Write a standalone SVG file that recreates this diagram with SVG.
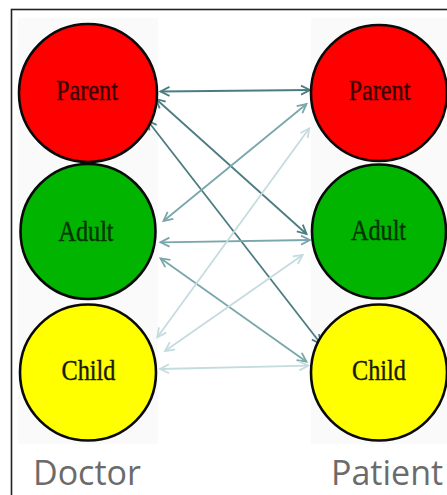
<svg xmlns="http://www.w3.org/2000/svg" width="447" height="495" viewBox="0 0 447 495">
  <style>
    .bg{fill:#fafafa}
    .node{stroke:#0a0a0a;stroke-width:2.6}
    .lbl{font-family:"Liberation Serif",serif;font-size:25px;text-anchor:middle;stroke-width:0.35}
    .role{font-family:"Open Sans",sans-serif;font-size:34px;fill:#6b6b6b}
    .c{fill:none;stroke-width:1.8}
    .d{stroke:#4b7c82}
    .m{stroke:#79a7ac}
    .l{stroke:#c5dcdf}
  </style>
  <defs>
    <marker id="ad" viewBox="-10 -6 12 12" markerWidth="12" markerHeight="12" refX="0" refY="0" orient="auto-start-reverse" markerUnits="userSpaceOnUse">
      <path d="M-9,-4.5 L0,0 L-9,4.5" fill="none" stroke="#4b7c82" stroke-width="1.8"/>
    </marker>
    <marker id="am" viewBox="-10 -6 12 12" markerWidth="12" markerHeight="12" refX="0" refY="0" orient="auto-start-reverse" markerUnits="userSpaceOnUse">
      <path d="M-9,-4.5 L0,0 L-9,4.5" fill="none" stroke="#79a7ac" stroke-width="1.8"/>
    </marker>
    <marker id="al" viewBox="-10 -6 12 12" markerWidth="12" markerHeight="12" refX="0" refY="0" orient="auto-start-reverse" markerUnits="userSpaceOnUse">
      <path d="M-9,-4.5 L0,0 L-9,4.5" fill="none" stroke="#c5dcdf" stroke-width="1.8"/>
    </marker>
  </defs>
  <rect x="0" y="0" width="447" height="495" fill="#fff"/>
  <rect x="11.5" y="9.5" width="445" height="495" fill="none" stroke="#222" stroke-width="1.6"/>
  <rect class="bg" x="18" y="18" width="140" height="426"/>
  <rect class="bg" x="311" y="18" width="140" height="426"/>

  <g id="connectors">
    <line class="c d" x1="160.5" y1="91.5" x2="310" y2="90" marker-start="url(#ad)" marker-end="url(#ad)"/>
    <line class="c d" x1="156" y1="99" x2="306.5" y2="234" marker-start="url(#ad)" marker-end="url(#ad)"/>
    <line class="c d" x1="147.5" y1="120.5" x2="321" y2="344" marker-start="url(#ad)" marker-end="url(#ad)"/>
    <line class="c m" x1="163.5" y1="221" x2="306.5" y2="104" marker-start="url(#am)" marker-end="url(#am)"/>
    <line class="c m" x1="160.5" y1="242.3" x2="310" y2="240" marker-start="url(#am)" marker-end="url(#am)"/>
    <line class="c m" x1="160.5" y1="258.3" x2="306.5" y2="361.7" marker-start="url(#am)" marker-end="url(#am)"/>
    <line class="c l" x1="157.3" y1="337.3" x2="309.3" y2="128.3" marker-start="url(#al)" marker-end="url(#al)"/>
    <line class="c l" x1="165" y1="351" x2="302.7" y2="255" marker-start="url(#al)" marker-end="url(#al)"/>
    <line class="c l" x1="160" y1="369" x2="308.3" y2="365.7" marker-start="url(#al)" marker-end="url(#al)"/>
  </g>

  <g id="doctor-parent">
    <circle class="node" cx="88" cy="93" r="69" fill="#ff0000"/>
    <text class="lbl" transform="translate(87,100) scale(0.97,1.15)" fill="#3a0000" stroke="#3a0000">Parent</text>
  </g>
  <g id="doctor-adult">
    <circle class="node" cx="88" cy="231.5" r="67.5" fill="#00b400"/>
    <text class="lbl" transform="translate(86,241) scale(0.97,1.15)" fill="#003300" stroke="#003300">Adult</text>
  </g>
  <g id="doctor-child">
    <circle class="node" cx="88" cy="372.5" r="68" fill="#ffff00"/>
    <text class="lbl" transform="translate(88.5,380) scale(0.97,1.15)" fill="#1a1a00" stroke="#1a1a00">Child</text>
  </g>
  <g id="patient-parent">
    <circle class="node" cx="379" cy="93" r="68" fill="#ff0000"/>
    <text class="lbl" transform="translate(379.5,100) scale(0.97,1.15)" fill="#3a0000" stroke="#3a0000">Parent</text>
  </g>
  <g id="patient-adult">
    <circle class="node" cx="379" cy="231.5" r="67" fill="#00b400"/>
    <text class="lbl" transform="translate(378.5,240) scale(0.97,1.15)" fill="#003300" stroke="#003300">Adult</text>
  </g>
  <g id="patient-child">
    <circle class="node" cx="379" cy="372.5" r="68" fill="#ffff00"/>
    <text class="lbl" transform="translate(379,380) scale(0.97,1.15)" fill="#1a1a00" stroke="#1a1a00">Child</text>
  </g>

  <g id="labels">
    <text class="role" x="33" y="485">Doctor</text>
    <text class="role" x="331" y="485">Patient</text>
  </g>
</svg>
